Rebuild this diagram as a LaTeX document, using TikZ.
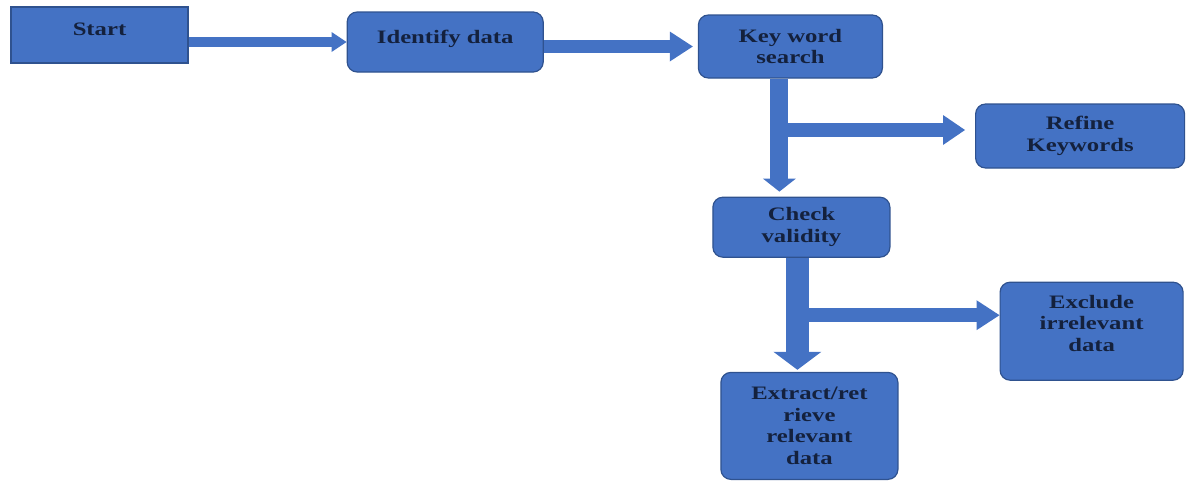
\documentclass[tikz,border=0pt]{standalone}
\usepackage{fontspec}
\setmainfont{Liberation Serif}[FakeStretch=1.3]
\usetikzlibrary{arrows.meta, positioning}
\definecolor{boxfill}{HTML}{4472C4}
\definecolor{boxline}{HTML}{2F528F}
\definecolor{ink}{HTML}{14213D}

\begin{document}
\begin{tikzpicture}[
  font=\bfseries\fontsize{19bp}{21.5bp}\selectfont,
  box/.style={draw=boxline, fill=boxfill, text=ink, line width=1.2bp,
              rounded corners=10bp, align=center, inner sep=0pt},
  sq/.style={box, sharp corners},
  up/.style={text depth=#1},
  blk/.style n args={3}{draw=boxfill, line width=#1,
              -{Triangle[length=#2, width=#3, line width=0pt]}},
  node distance=10bp]

\useasboundingbox (0,0) rectangle (1186bp,-481bp);

\node[sq, up=12bp, minimum width=177bp, minimum height=56bp] (start) at (99.5bp,-35bp) {Start};
\node[box, up=11bp, minimum width=196bp, minimum height=60bp, right=158bp of start, yshift=-7bp] (ident) {Identify data};
\node[box, minimum width=184bp, minimum height=63bp, right=154bp of ident, yshift=-4.5bp] (kws) {Key word\\search};
\node[box, minimum width=209bp, minimum height=64bp, right=92bp of kws, yshift=-89.5bp] (refine) {Refine\\Keywords};
\node[box, minimum width=177bp, minimum height=60bp, below=118bp of kws, xshift=11bp] (check) {Check\\validity};
\node[box, up=16bp, minimum width=183bp, minimum height=98bp, right=109bp of check, yshift=-104bp] (excl) {Exclude\\irrelevant\\data};
\node[box, minimum width=177bp, minimum height=107bp, below=114bp of check, xshift=8bp] (extr) {Extract/ret\\rieve\\relevant\\data};

% block arrows
\coordinate (kd) at ([xshift=-11bp]kws.south);
\coordinate (cd) at ([xshift=-4bp]check.south);

\draw[blk={10bp}{15bp}{20bp}] (start.east |- ident.west) -- (ident.west);
\draw[blk={13bp}{23bp}{30bp}] (ident.east |- kws.west) -- ([xshift=-5bp]kws.west);
\draw[blk={18bp}{13bp}{33bp}] (kd) -- ([yshift=5bp]kd |- check.north);
\draw[blk={14bp}{22bp}{30bp}] ([yshift=6bp]kd |- refine.west) -- ([xshift=-10bp, yshift=6bp]refine.west);
\draw[blk={23bp}{18bp}{48bp}] (cd) -- ([yshift=2bp]cd |- extr.north);
\draw[blk={14bp}{23bp}{30bp}] ([yshift=16bp]cd |- excl.west) -- ([yshift=16bp]excl.west);
\end{tikzpicture}
\end{document}
